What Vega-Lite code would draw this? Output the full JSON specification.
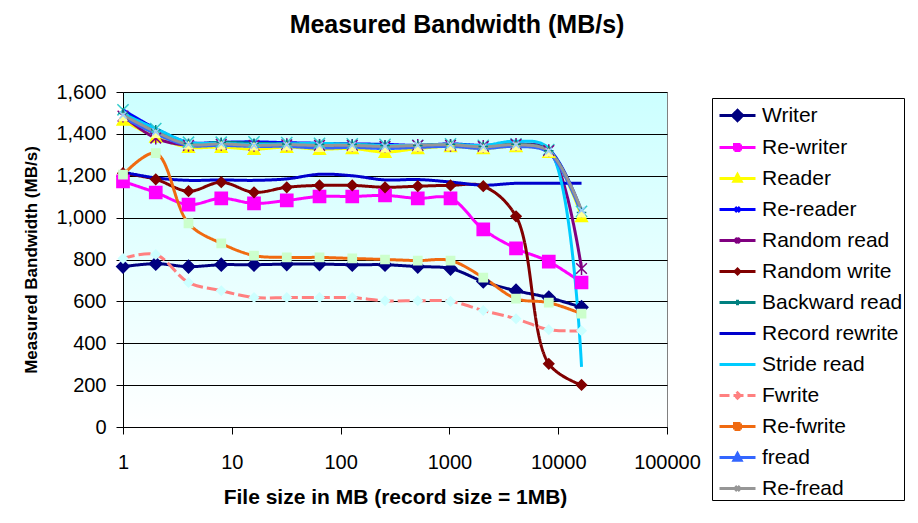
{
  "$schema": "https://vega.github.io/schema/vega-lite/v6.json",
  "autosize": {"type": "none"},
  "padding": {"left": 123, "top": 92, "right": 251, "bottom": 96},
  "width": 544,
  "height": 335,
  "background": "white",
  "view": {
    "fill": {
      "gradient": "linear", "x1": 0, "y1": 0, "x2": 0, "y2": 1,
      "stops": [{"offset": 0, "color": "#CCFFFF"}, {"offset": 1, "color": "#FFFFFF"}]
    },
    "stroke": "#808080",
    "strokeWidth": 1
  },
  "title": {
    "text": "Measured Bandwidth (MB/s)",
    "font": "Liberation Sans",
    "fontSize": 25,
    "fontWeight": "bold",
    "color": "black",
    "anchor": "middle",
    "frame": "group",
    "baseline": "alphabetic",
    "offset": 24,
    "dx": 62
  },
  "config": {
    "font": "Liberation Sans",
    "axis": {
      "labelFont": "Liberation Sans",
      "labelFontSize": 20,
      "labelColor": "black",
      "titleFont": "Liberation Sans",
      "titleColor": "black",
      "titleFontWeight": "bold",
      "domainColor": "black",
      "tickColor": "black",
      "tickSize": 7,
      "gridColor": "black",
      "gridOpacity": 1
    }
  },
  "data": {
    "values": [
      {"test": "Writer", "size": 1, "bw": 766}, {"test": "Writer", "size": 2, "bw": 780}, {"test": "Writer", "size": 4, "bw": 766}, {"test": "Writer", "size": 8, "bw": 775}, {"test": "Writer", "size": 16, "bw": 775}, {"test": "Writer", "size": 32, "bw": 778}, {"test": "Writer", "size": 64, "bw": 778}, {"test": "Writer", "size": 128, "bw": 775}, {"test": "Writer", "size": 256, "bw": 775}, {"test": "Writer", "size": 512, "bw": 766}, {"test": "Writer", "size": 1024, "bw": 757}, {"test": "Writer", "size": 2048, "bw": 695}, {"test": "Writer", "size": 4096, "bw": 651}, {"test": "Writer", "size": 8192, "bw": 618}, {"test": "Writer", "size": 16384, "bw": 572},
      {"test": "Re-writer", "size": 1, "bw": 1173}, {"test": "Re-writer", "size": 2, "bw": 1120}, {"test": "Re-writer", "size": 4, "bw": 1062}, {"test": "Re-writer", "size": 8, "bw": 1092}, {"test": "Re-writer", "size": 16, "bw": 1068}, {"test": "Re-writer", "size": 32, "bw": 1082}, {"test": "Re-writer", "size": 64, "bw": 1101}, {"test": "Re-writer", "size": 128, "bw": 1101}, {"test": "Re-writer", "size": 256, "bw": 1106}, {"test": "Re-writer", "size": 512, "bw": 1092}, {"test": "Re-writer", "size": 1024, "bw": 1092}, {"test": "Re-writer", "size": 2048, "bw": 944}, {"test": "Re-writer", "size": 4096, "bw": 853}, {"test": "Re-writer", "size": 8192, "bw": 790}, {"test": "Re-writer", "size": 16384, "bw": 690},
      {"test": "Reader", "size": 1, "bw": 1466}, {"test": "Reader", "size": 2, "bw": 1385}, {"test": "Reader", "size": 4, "bw": 1337}, {"test": "Reader", "size": 8, "bw": 1337}, {"test": "Reader", "size": 16, "bw": 1327}, {"test": "Reader", "size": 32, "bw": 1337}, {"test": "Reader", "size": 64, "bw": 1327}, {"test": "Reader", "size": 128, "bw": 1330}, {"test": "Reader", "size": 256, "bw": 1313}, {"test": "Reader", "size": 512, "bw": 1330}, {"test": "Reader", "size": 1024, "bw": 1340}, {"test": "Reader", "size": 2048, "bw": 1330}, {"test": "Reader", "size": 4096, "bw": 1340}, {"test": "Reader", "size": 8192, "bw": 1313}, {"test": "Reader", "size": 16384, "bw": 1006},
      {"test": "Re-reader", "size": 1, "bw": 1515}, {"test": "Re-reader", "size": 2, "bw": 1425}, {"test": "Re-reader", "size": 4, "bw": 1360}, {"test": "Re-reader", "size": 8, "bw": 1360}, {"test": "Re-reader", "size": 16, "bw": 1362}, {"test": "Re-reader", "size": 32, "bw": 1358}, {"test": "Re-reader", "size": 64, "bw": 1355}, {"test": "Re-reader", "size": 128, "bw": 1352}, {"test": "Re-reader", "size": 256, "bw": 1350}, {"test": "Re-reader", "size": 512, "bw": 1345}, {"test": "Re-reader", "size": 1024, "bw": 1352}, {"test": "Re-reader", "size": 2048, "bw": 1345}, {"test": "Re-reader", "size": 4096, "bw": 1352}, {"test": "Re-reader", "size": 8192, "bw": 1325}, {"test": "Re-reader", "size": 16384, "bw": 1030},
      {"test": "Random read", "size": 1, "bw": 1485}, {"test": "Random read", "size": 2, "bw": 1380}, {"test": "Random read", "size": 4, "bw": 1345}, {"test": "Random read", "size": 8, "bw": 1350}, {"test": "Random read", "size": 16, "bw": 1345}, {"test": "Random read", "size": 32, "bw": 1348}, {"test": "Random read", "size": 64, "bw": 1345}, {"test": "Random read", "size": 128, "bw": 1345}, {"test": "Random read", "size": 256, "bw": 1340}, {"test": "Random read", "size": 512, "bw": 1345}, {"test": "Random read", "size": 1024, "bw": 1345}, {"test": "Random read", "size": 2048, "bw": 1340}, {"test": "Random read", "size": 4096, "bw": 1350}, {"test": "Random read", "size": 8192, "bw": 1320}, {"test": "Random read", "size": 16384, "bw": 757},
      {"test": "Random write", "size": 1, "bw": 1212}, {"test": "Random write", "size": 2, "bw": 1183}, {"test": "Random write", "size": 4, "bw": 1126}, {"test": "Random write", "size": 8, "bw": 1169}, {"test": "Random write", "size": 16, "bw": 1121}, {"test": "Random write", "size": 32, "bw": 1145}, {"test": "Random write", "size": 64, "bw": 1154}, {"test": "Random write", "size": 128, "bw": 1154}, {"test": "Random write", "size": 256, "bw": 1145}, {"test": "Random write", "size": 512, "bw": 1150}, {"test": "Random write", "size": 1024, "bw": 1154}, {"test": "Random write", "size": 2048, "bw": 1150}, {"test": "Random write", "size": 4096, "bw": 1006}, {"test": "Random write", "size": 8192, "bw": 302}, {"test": "Random write", "size": 16384, "bw": 201},
      {"test": "Backward read", "size": 1, "bw": 1500}, {"test": "Backward read", "size": 2, "bw": 1420}, {"test": "Backward read", "size": 4, "bw": 1355}, {"test": "Backward read", "size": 8, "bw": 1360}, {"test": "Backward read", "size": 16, "bw": 1355}, {"test": "Backward read", "size": 32, "bw": 1352}, {"test": "Backward read", "size": 64, "bw": 1350}, {"test": "Backward read", "size": 128, "bw": 1350}, {"test": "Backward read", "size": 256, "bw": 1345}, {"test": "Backward read", "size": 512, "bw": 1345}, {"test": "Backward read", "size": 1024, "bw": 1350}, {"test": "Backward read", "size": 2048, "bw": 1340}, {"test": "Backward read", "size": 4096, "bw": 1350}, {"test": "Backward read", "size": 8192, "bw": 1320}, {"test": "Backward read", "size": 16384, "bw": 1025},
      {"test": "Record rewrite", "size": 1, "bw": 1217}, {"test": "Record rewrite", "size": 2, "bw": 1190}, {"test": "Record rewrite", "size": 4, "bw": 1178}, {"test": "Record rewrite", "size": 8, "bw": 1180}, {"test": "Record rewrite", "size": 16, "bw": 1178}, {"test": "Record rewrite", "size": 32, "bw": 1185}, {"test": "Record rewrite", "size": 64, "bw": 1207}, {"test": "Record rewrite", "size": 128, "bw": 1200}, {"test": "Record rewrite", "size": 256, "bw": 1180}, {"test": "Record rewrite", "size": 512, "bw": 1182}, {"test": "Record rewrite", "size": 1024, "bw": 1170}, {"test": "Record rewrite", "size": 2048, "bw": 1155}, {"test": "Record rewrite", "size": 4096, "bw": 1164}, {"test": "Record rewrite", "size": 8192, "bw": 1164}, {"test": "Record rewrite", "size": 16384, "bw": 1164},
      {"test": "Stride read", "size": 1, "bw": 1495}, {"test": "Stride read", "size": 2, "bw": 1425}, {"test": "Stride read", "size": 4, "bw": 1360}, {"test": "Stride read", "size": 8, "bw": 1355}, {"test": "Stride read", "size": 16, "bw": 1350}, {"test": "Stride read", "size": 32, "bw": 1352}, {"test": "Stride read", "size": 64, "bw": 1355}, {"test": "Stride read", "size": 128, "bw": 1350}, {"test": "Stride read", "size": 256, "bw": 1345}, {"test": "Stride read", "size": 512, "bw": 1345}, {"test": "Stride read", "size": 1024, "bw": 1350}, {"test": "Stride read", "size": 2048, "bw": 1345}, {"test": "Stride read", "size": 4096, "bw": 1365}, {"test": "Stride read", "size": 8192, "bw": 1330}, {"test": "Stride read", "size": 16384, "bw": 287},
      {"test": "Fwrite", "size": 1, "bw": 805}, {"test": "Fwrite", "size": 2, "bw": 824}, {"test": "Fwrite", "size": 4, "bw": 690}, {"test": "Fwrite", "size": 8, "bw": 651}, {"test": "Fwrite", "size": 16, "bw": 618}, {"test": "Fwrite", "size": 32, "bw": 618}, {"test": "Fwrite", "size": 64, "bw": 618}, {"test": "Fwrite", "size": 128, "bw": 618}, {"test": "Fwrite", "size": 256, "bw": 603}, {"test": "Fwrite", "size": 512, "bw": 603}, {"test": "Fwrite", "size": 1024, "bw": 600}, {"test": "Fwrite", "size": 2048, "bw": 556}, {"test": "Fwrite", "size": 4096, "bw": 517}, {"test": "Fwrite", "size": 8192, "bw": 465}, {"test": "Fwrite", "size": 16384, "bw": 460},
      {"test": "Re-fwrite", "size": 1, "bw": 1205}, {"test": "Re-fwrite", "size": 2, "bw": 1308}, {"test": "Re-fwrite", "size": 4, "bw": 972}, {"test": "Re-fwrite", "size": 8, "bw": 877}, {"test": "Re-fwrite", "size": 16, "bw": 819}, {"test": "Re-fwrite", "size": 32, "bw": 810}, {"test": "Re-fwrite", "size": 64, "bw": 810}, {"test": "Re-fwrite", "size": 128, "bw": 805}, {"test": "Re-fwrite", "size": 256, "bw": 800}, {"test": "Re-fwrite", "size": 512, "bw": 795}, {"test": "Re-fwrite", "size": 1024, "bw": 795}, {"test": "Re-fwrite", "size": 2048, "bw": 714}, {"test": "Re-fwrite", "size": 4096, "bw": 613}, {"test": "Re-fwrite", "size": 8192, "bw": 594}, {"test": "Re-fwrite", "size": 16384, "bw": 541},
      {"test": "fread", "size": 1, "bw": 1480}, {"test": "fread", "size": 2, "bw": 1400}, {"test": "fread", "size": 4, "bw": 1345}, {"test": "fread", "size": 8, "bw": 1345}, {"test": "fread", "size": 16, "bw": 1340}, {"test": "fread", "size": 32, "bw": 1340}, {"test": "fread", "size": 64, "bw": 1332}, {"test": "fread", "size": 128, "bw": 1335}, {"test": "fread", "size": 256, "bw": 1330}, {"test": "fread", "size": 512, "bw": 1335}, {"test": "fread", "size": 1024, "bw": 1340}, {"test": "fread", "size": 2048, "bw": 1330}, {"test": "fread", "size": 4096, "bw": 1340}, {"test": "fread", "size": 8192, "bw": 1310}, {"test": "fread", "size": 16384, "bw": 1020},
      {"test": "Re-fread", "size": 1, "bw": 1490}, {"test": "Re-fread", "size": 2, "bw": 1410}, {"test": "Re-fread", "size": 4, "bw": 1350}, {"test": "Re-fread", "size": 8, "bw": 1352}, {"test": "Re-fread", "size": 16, "bw": 1345}, {"test": "Re-fread", "size": 32, "bw": 1348}, {"test": "Re-fread", "size": 64, "bw": 1345}, {"test": "Re-fread", "size": 128, "bw": 1345}, {"test": "Re-fread", "size": 256, "bw": 1340}, {"test": "Re-fread", "size": 512, "bw": 1345}, {"test": "Re-fread", "size": 1024, "bw": 1348}, {"test": "Re-fread", "size": 2048, "bw": 1338}, {"test": "Re-fread", "size": 4096, "bw": 1348}, {"test": "Re-fread", "size": 8192, "bw": 1318}, {"test": "Re-fread", "size": 16384, "bw": 1035}
    ]
  },
  "encoding": {
    "x": {
      "field": "size",
      "type": "quantitative",
      "title": "File size in MB (record size = 1MB)",
      "scale": {"type": "log", "domain": [1, 100000], "nice": false},
      "axis": {
        "values": [1, 10, 100, 1000, 10000, 100000],
        "format": "d",
        "grid": false,
        "labelFlush": false,
        "labelPadding": 18,
        "titleFontSize": 21,
        "titlePadding": 14
      }
    },
    "y": {
      "field": "bw",
      "type": "quantitative",
      "title": "Measured Bandwidth (MB/s)",
      "scale": {"domain": [0, 1600], "nice": false},
      "axis": {
        "values": [0, 200, 400, 600, 800, 1000, 1200, 1400, 1600],
        "format": ",d",
        "grid": true,
        "labelPadding": 10,
        "titleFontSize": 17,
        "titlePadding": 15
      }
    }
  },
  "layer": [
    {
      "mark": {"type": "line", "interpolate": "catmull-rom", "strokeWidth": 3},
      "encoding": {
        "color": {
          "field": "test",
          "type": "nominal",
          "scale": {
            "domain": ["Writer", "Re-writer", "Reader", "Re-reader", "Random read", "Random write", "Backward read", "Record rewrite", "Stride read", "Fwrite", "Re-fwrite", "fread", "Re-fread"],
            "range": ["#000080", "#FF00FF", "#FFFF00", "#0000FF", "#800080", "#800000", "#008080", "#0000CC", "#00CCFF", "#FF8080", "#F06A10", "#3366FF", "#969696"]
          },
          "legend": {
            "title": null,
            "orient": "none",
            "legendX": 589,
            "legendY": 6,
            "padding": 1,
            "strokeColor": "black",
            "fillColor": "white",
            "labelFont": "Liberation Sans",
            "labelFontSize": 21,
            "labelColor": "black",
            "labelOffset": 8,
            "rowPadding": 4,
            "symbolSize": 900,
            "symbolStrokeWidth": 3,
            "symbolOffset": 8,
            "encode": {
              "symbols": {
                "update": {
                  "shape": {"signal": "{'Writer': 'M-1.2,0L1.2,0M0,-0.34L0.34,0L0,0.34L-0.34,0Z', 'Re-writer': 'M-1.2,0L1.2,0M-0.2,-0.2L0.2,-0.2L0.2,0.2L-0.2,0.2Z', 'Reader': 'M-1.2,0L1.2,0M0,-0.26L0.24,0.19L-0.24,0.19Z', 'Re-reader': 'M-1.2,0L1.2,0M-0.16,-0.16L0.16,0.16M-0.16,0.16L0.16,-0.16', 'Random read': 'M-1.2,0L1.2,0M-0.16,-0.16L0.16,0.16M-0.16,0.16L0.16,-0.16M0,-0.2L0,0.2', 'Random write': 'M-1.2,0L1.2,0M0,-0.16L0.16,0L0,0.16L-0.16,0Z', 'Backward read': 'M-1.2,0L1.2,0M0,-0.18L0,0.18', 'Record rewrite': 'M-1.2,0L1.2,0', 'Stride read': 'M-1.2,0L1.2,0', 'Fwrite': 'M-1.2,0L1.2,0M0,-0.18L0.18,0L0,0.18L-0.18,0Z', 'Re-fwrite': 'M-1.2,0L1.2,0M-0.2,-0.2L0.2,-0.2L0.2,0.2L-0.2,0.2Z', 'fread': 'M-1.2,0L1.2,0M0,-0.26L0.24,0.19L-0.24,0.19Z', 'Re-fread': 'M-1.2,0L1.2,0M-0.16,-0.16L0.16,0.16M-0.16,0.16L0.16,-0.16'}[datum.value]"},
                  "fill": {"signal": "{'Writer': '#000080', 'Re-writer': '#FF00FF', 'Reader': '#FFFF00', 'Random write': '#800000', 'Fwrite': '#CCFFFF', 'Re-fwrite': '#CCFFCC', 'fread': '#FFFF99'}[datum.value] || 'transparent'"},
                  "stroke": {"scale": "color", "field": "value"},
                  "strokeWidth": {"value": 3},
                  "strokeDash": {"signal": "datum.value === 'Fwrite' ? [10, 4] : [1, 0]"},
                  "opacity": {"value": 1}
                }
              }
            }
          }
        },
        "strokeDash": {
          "condition": {"test": "datum.test === 'Fwrite'", "value": [12, 4]},
          "value": [1, 0]
        }
      }
    },
    {
      "transform": [{"filter": "datum.test !== 'Record rewrite' && datum.test !== 'Stride read'"}],
      "mark": {"type": "point", "filled": true, "strokeWidth": 1.5, "opacity": 1},
      "encoding": {
        "shape": {
          "field": "test",
          "type": "nominal",
          "legend": null,
          "scale": {
            "domain": ["Writer", "Re-writer", "Reader", "Re-reader", "Random read", "Random write", "Backward read", "Fwrite", "Re-fwrite", "fread", "Re-fread"],
            "range": ["diamond", "square", "triangle-up", "M-1,-1L1,1M-1,1L1,-1", "M-1,-1L1,1M-1,1L1,-1M0,-1.2L0,1.2", "diamond", "M-1,0L1,0M0,-1L0,1", "diamond", "square", "triangle-up", "M-1,-1L1,1M-1,1L1,-1"]
          }
        },
        "fill": {
          "field": "test",
          "type": "nominal",
          "legend": null,
          "scale": {
            "domain": ["Writer", "Re-writer", "Reader", "Re-reader", "Random read", "Random write", "Backward read", "Fwrite", "Re-fwrite", "fread", "Re-fread"],
            "range": ["#000080", "#FF00FF", "#FFFF00", "#33CCCC", "#800080", "#800000", "#008080", "#CCFFFF", "#CCFFCC", "#FFFF99", "#99CCFF"]
          }
        },
        "stroke": {
          "field": "test",
          "type": "nominal",
          "legend": null,
          "scale": {
            "domain": ["Writer", "Re-writer", "Reader", "Re-reader", "Random read", "Random write", "Backward read", "Fwrite", "Re-fwrite", "fread", "Re-fread"],
            "range": ["#000080", "#FF00FF", "#FFFF00", "#33CCCC", "#800080", "#800000", "#008080", "#CCFFFF", "#CCFFCC", "#FFFF99", "#99CCFF"]
          }
        },
        "size": {
          "field": "test",
          "type": "nominal",
          "legend": null,
          "scale": {
            "domain": ["Writer", "Re-writer", "Reader", "Re-reader", "Random read", "Random write", "Backward read", "Fwrite", "Re-fwrite", "fread", "Re-fread"],
            "range": [160, 45, 55, 25, 30, 30, 30, 35, 45, 55, 25]
          }
        }
      }
    }
  ]
}
